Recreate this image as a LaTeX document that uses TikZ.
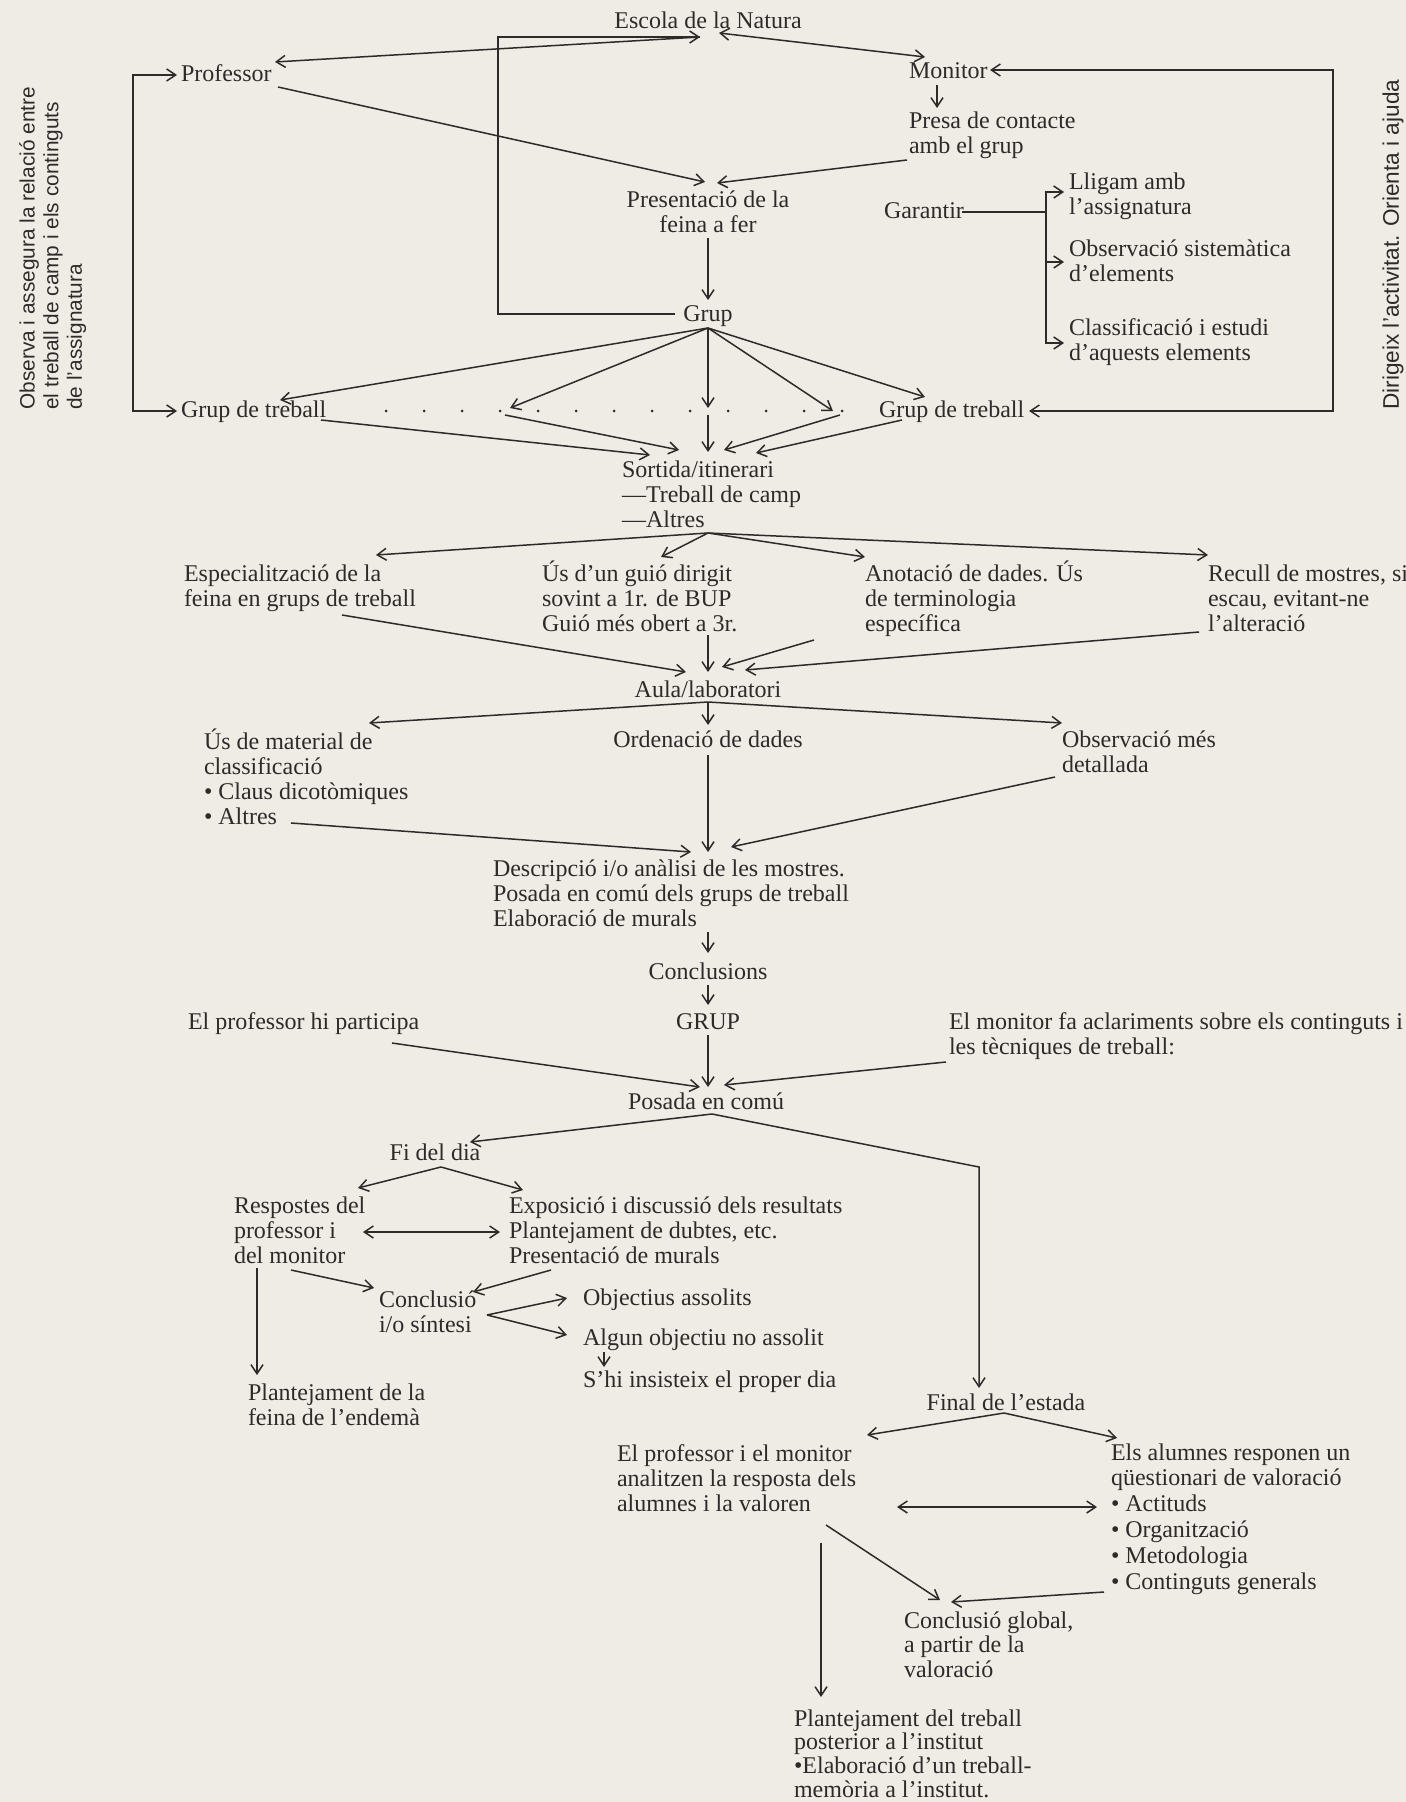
\documentclass[tikz,border=0pt]{standalone}
\usepackage{fontspec}
\setmainfont{Liberation Serif}
\newfontfamily\rotfont{Liberation Sans}
\usetikzlibrary{arrows.meta}
\definecolor{paper}{HTML}{EEECE5}
\definecolor{ink}{HTML}{2E2A2A}
\newcommand\mytight{\lineskiplimit=-100pt\relax}
\begin{document}
\begin{tikzpicture}[x=0.5pt,y=-0.5pt,
  lbl/.style={inner sep=0pt,outer sep=0pt,text=ink,font=\fontsize{12}{12.5}\selectfont\mytight,align=left,anchor=base west},
  lblc/.style={lbl,anchor=base,align=center},
  ln/.style={draw=ink,line width=0.75pt},
  arr/.style={ln,-{Straight Barb[length=4.5pt,width=6pt]}},
  darr/.style={ln,{Straight Barb[length=4.5pt,width=6pt]}-{Straight Barb[length=4.5pt,width=6pt]}}]
\fill[paper] (0,0) rectangle (1406,1802);
\useasboundingbox (0,0) rectangle (1406,1802);

% rotated side texts
\node[inner sep=0pt,text=ink,font=\rotfont\fontsize{10.4}{11.8}\selectfont\mytight,align=left,rotate=90,anchor=north west] (rotL) at (19,410) {Observa i assegura la relació entre\\el treball de camp i els continguts\\de l’assignatura};
\node[inner sep=0pt,text=ink,font=\rotfont\fontsize{11.3}{12}\selectfont,rotate=90,anchor=west] (rotR) at (1393,410) {Dirigeix l’activitat. Orienta i ajuda};

% nodes (multi-line nodes are placed at the baseline of their last line)
\node[lblc] (esc) at (708,29) {Escola de la Natura};
\node[lbl] (prof) at (181,82) {Professor};
\node[lbl] (mon) at (909,79) {Monitor};
\node[lbl] (presa) at (909,154) {Presa de contacte\\amb el grup};
\node[lblc] (pres) at (708,233) {Presentació de la\\feina a fer};
\node[lbl] (gar) at (884,219) {Garantir};
\node[lbl] (llig) at (1069,215) {Lligam amb\\l’assignatura};
\node[lbl] (obs) at (1069,282) {Observació sistemàtica\\d’elements};
\node[lbl] (clas) at (1069,361) {Classificació i estudi\\d’aquests elements};
\node[lblc] (grup) at (708,322) {Grup};
\node[lbl] (gtl) at (181,418) {Grup de treball};
\node[lbl] (gtr) at (879,418) {Grup de treball};
\node[lbl] (sort) at (622,527) {Sortida/itinerari\\—Treball de camp\\—Altres};
\node[lbl] (esp) at (184,606) {Especialització de la\\feina en grups de treball};
\node[lbl] (gui) at (542,631) {Ús d’un guió dirigit\\sovint a 1r. de BUP\\Guió més obert a 3r.};
\node[lbl] (ano) at (865,631) {Anotació de dades. Ús\\de terminologia\\específica};
\node[lbl] (rec) at (1208,631) {Recull de mostres, si\\escau, evitant-ne\\l’alteració};
\node[lblc] (aula) at (708,697) {Aula/laboratori};
\node[lbl] (mat) at (204,824) {Ús de material de\\classificació\\• Claus dicotòmiques\\• Altres};
\node[lblc] (ord) at (708,747) {Ordenació de dades};
\node[lbl] (obm) at (1062,772) {Observació més\\detallada};
\node[lbl] (desc) at (493,926) {Descripció i/o anàlisi de les mostres.\\Posada en comú dels grups de treball\\Elaboració de murals};
\node[lblc] (concl) at (708,979) {Conclusions};
\node[lblc] (GRUP) at (708,1029) {GRUP};
\node[lbl] (hi) at (188,1029) {El professor hi participa};
\node[lbl] (mf) at (949,1054) {El monitor fa aclariments sobre els continguts i\\les tècniques de treball:};
\node[lblc] (pos) at (706,1109) {Posada en comú};
\node[lblc] (fi) at (435,1160) {Fi del dia};
\node[lbl] (resp) at (234,1263) {Respostes del\\professor i\\del monitor};
\node[lbl] (exp) at (509,1263) {Exposició i discussió dels resultats\\Plantejament de dubtes, etc.\\Presentació de murals};
\node[lbl] (con) at (379,1332) {Conclusió\\i/o síntesi};
\node[lbl] (obj) at (583,1305) {Objectius assolits};
\node[lbl] (alg) at (583,1345) {Algun objectiu no assolit};
\node[lbl] (shi) at (583,1387) {S’hi insisteix el proper dia};
\node[lbl] (pla) at (248,1425) {Plantejament de la\\feina de l’endemà};
\node[lblc] (fin) at (1006,1410) {Final de l’estada};
\node[lbl] (pm) at (617,1511) {El professor i el monitor\\analitzen la resposta dels\\alumnes i la valoren};
\node[lbl,font=\fontsize{12}{12.9}\selectfont\mytight] (ea) at (1111,1589) {Els alumnes responen un\\qüestionari de valoració\\• Actituds\\• Organització\\• Metodologia\\• Continguts generals};
\node[lbl,font=\fontsize{12}{12.2}\selectfont\mytight] (cg) at (904,1677) {Conclusió global,\\a partir de la\\valoració};
\node[lbl,font=\fontsize{12}{11.8}\selectfont\mytight] (pt) at (794,1797) {Plantejament del treball\\posterior a l’institut\\•Elaboració d’un treball-\\memòria a l’institut.};

% connector points
\coordinate (escA) at (700,37);
\coordinate (escB) at (719,33);
\coordinate (grupW) at (675,314);
\coordinate (profA) at (275,62);
\coordinate (monA) at (925,57);
\coordinate (profL) at (177,75);
\coordinate (gtlL) at (177,411);
\coordinate (monR) at (990,70);
\coordinate (gtrR) at (1029,411);
\coordinate (profS) at (278,87);
\coordinate (presN) at (705,182);
\coordinate (monS) at (937,85);
\coordinate (presaN) at (937,108);
\coordinate (presaW) at (907,160);
\coordinate (presN2) at (717,183);
\coordinate (presS) at (708,238);
\coordinate (grupN) at (708,300);
\coordinate (garE) at (962,212);
\coordinate (garX) at (1046,212);
\coordinate (lligW) at (1064,192);
\coordinate (obsW) at (1064,262);
\coordinate (clasW) at (1064,343);
\coordinate (grupS) at (708,328);
\coordinate (gtlA) at (280,400);
\coordinate (dotA) at (510,408);
\coordinate (spineA) at (708,408);
\coordinate (dotB) at (833,411);
\coordinate (gtrA) at (925,397);
\coordinate (gtlE) at (321,420);
\coordinate (sortA) at (650,455);
\coordinate (dotA2) at (505,415);
\coordinate (sortB) at (679,450);
\coordinate (spineB) at (708,415);
\coordinate (sortN) at (708,452);
\coordinate (dotB2) at (840,415);
\coordinate (sortC) at (724,450);
\coordinate (gtrW) at (902,420);
\coordinate (sortD) at (756,453);
\coordinate (sortS) at (708,533);
\coordinate (espA) at (376,555);
\coordinate (guiA) at (661,557);
\coordinate (anoA) at (865,557);
\coordinate (recA) at (1208,555);
\coordinate (espE) at (342,615);
\coordinate (aulaA) at (686,672);
\coordinate (guiS) at (708,635);
\coordinate (aulaN) at (708,672);
\coordinate (anoW) at (814,640);
\coordinate (aulaB) at (722,667);
\coordinate (recW) at (1199,632);
\coordinate (aulaC) at (745,670);
\coordinate (aulaS) at (708,702);
\coordinate (matA) at (369,723);
\coordinate (ordN) at (708,725);
\coordinate (obmA) at (1062,723);
\coordinate (altE) at (291,823);
\coordinate (descA) at (691,852);
\coordinate (ordS) at (708,755);
\coordinate (descN) at (708,852);
\coordinate (obmW) at (1055,777);
\coordinate (descB) at (731,847);
\coordinate (descS) at (708,932);
\coordinate (conclN) at (708,953);
\coordinate (conclS) at (708,985);
\coordinate (GRUPN) at (708,1005);
\coordinate (GRUPS) at (708,1035);
\coordinate (posN) at (708,1087);
\coordinate (hiE) at (392,1043);
\coordinate (posA) at (700,1087);
\coordinate (mfW) at (946,1062);
\coordinate (posB) at (724,1085);
\coordinate (posS) at (712,1114);
\coordinate (fiA) at (470,1142);
\coordinate (posK) at (979,1167);
\coordinate (finN) at (979,1388);
\coordinate (fiS) at (441,1167);
\coordinate (respA) at (358,1188);
\coordinate (expA) at (523,1190);
\coordinate (respE) at (363,1232);
\coordinate (expW) at (500,1232);
\coordinate (respS) at (257,1268);
\coordinate (plaN) at (257,1375);
\coordinate (respE2) at (291,1270);
\coordinate (conA) at (374,1288);
\coordinate (expS) at (551,1270);
\coordinate (conB) at (473,1292);
\coordinate (conE) at (487,1315);
\coordinate (objA) at (567,1298);
\coordinate (algA) at (567,1335);
\coordinate (algS) at (604,1352);
\coordinate (shiN) at (604,1367);
\coordinate (finS) at (1004,1413);
\coordinate (pmA) at (867,1435);
\coordinate (eaA) at (1117,1438);
\coordinate (pmE) at (897,1507);
\coordinate (eaW) at (1097,1507);
\coordinate (pmS) at (826,1525);
\coordinate (cgA) at (940,1600);
\coordinate (ctgW) at (1104,1592);
\coordinate (cgB) at (951,1602);
\coordinate (pmS2) at (821,1543);
\coordinate (ptN) at (821,1697);

% top part
\draw[arr] (grupW) -| (498,37) -- (escA);
\draw[arr] (escA) -- (profA);
\draw[darr] (escB) -- (monA);
\draw[darr] (profL) -| (133,411) -- (gtlL);
\draw[darr] (monR) -| (1333,411) -- (gtrR);
\draw[arr] (profS) -- (presN);
\draw[arr] (monS) -- (presaN);
\draw[arr] (presaW) -- (presN2);
\draw[arr] (presS) -- (grupN);
\draw[ln] (garE) -- (garX);
\draw[arr] (garX) |- (lligW);
\draw[arr] (garX) |- (obsW);
\draw[arr] (garX) |- (clasW);
% fan from Grup
\draw[arr] (grupS) -- (gtlA);
\draw[arr] (grupS) -- (dotA);
\draw[arr] (grupS) -- (spineA);
\draw[arr] (grupS) -- (dotB);
\draw[arr] (grupS) -- (gtrA);
\foreach \i in {0,...,12} \fill[ink] (386+38*\i,411) circle[radius=0.75pt];
% into Sortida
\draw[arr] (gtlE) -- (sortA);
\draw[arr] (dotA2) -- (sortB);
\draw[arr] (spineB) -- (sortN);
\draw[arr] (dotB2) -- (sortC);
\draw[arr] (gtrW) -- (sortD);
% fan from Sortida
\draw[arr] (sortS) -- (espA);
\draw[arr] (sortS) -- (guiA);
\draw[arr] (sortS) -- (anoA);
\draw[arr] (sortS) -- (recA);
% into Aula
\draw[arr] (espE) -- (aulaA);
\draw[arr] (guiS) -- (aulaN);
\draw[arr] (anoW) -- (aulaB);
\draw[arr] (recW) -- (aulaC);
% fan from Aula
\draw[arr] (aulaS) -- (matA);
\draw[arr] (aulaS) -- (ordN);
\draw[arr] (aulaS) -- (obmA);
% into Descripcio
\draw[arr] (altE) -- (descA);
\draw[arr] (ordS) -- (descN);
\draw[arr] (obmW) -- (descB);
\draw[arr] (descS) -- (conclN);
\draw[arr] (conclS) -- (GRUPN);
\draw[arr] (GRUPS) -- (posN);
\draw[arr] (hiE) -- (posA);
\draw[arr] (mfW) -- (posB);
% lower part
\draw[arr] (posS) -- (fiA);
\draw[arr] (posS) -- (posK) -- (finN);
\draw[arr] (fiS) -- (respA);
\draw[arr] (fiS) -- (expA);
\draw[darr] (respE) -- (expW);
\draw[arr] (respS) -- (plaN);
\draw[arr] (respE2) -- (conA);
\draw[arr] (expS) -- (conB);
\draw[arr] (conE) -- (objA);
\draw[arr] (conE) -- (algA);
\draw[arr] (algS) -- (shiN);
\draw[arr] (finS) -- (pmA);
\draw[arr] (finS) -- (eaA);
\draw[darr] (pmE) -- (eaW);
\draw[arr] (pmS) -- (cgA);
\draw[arr] (ctgW) -- (cgB);
\draw[arr] (pmS2) -- (ptN);
\end{tikzpicture}
\end{document}
